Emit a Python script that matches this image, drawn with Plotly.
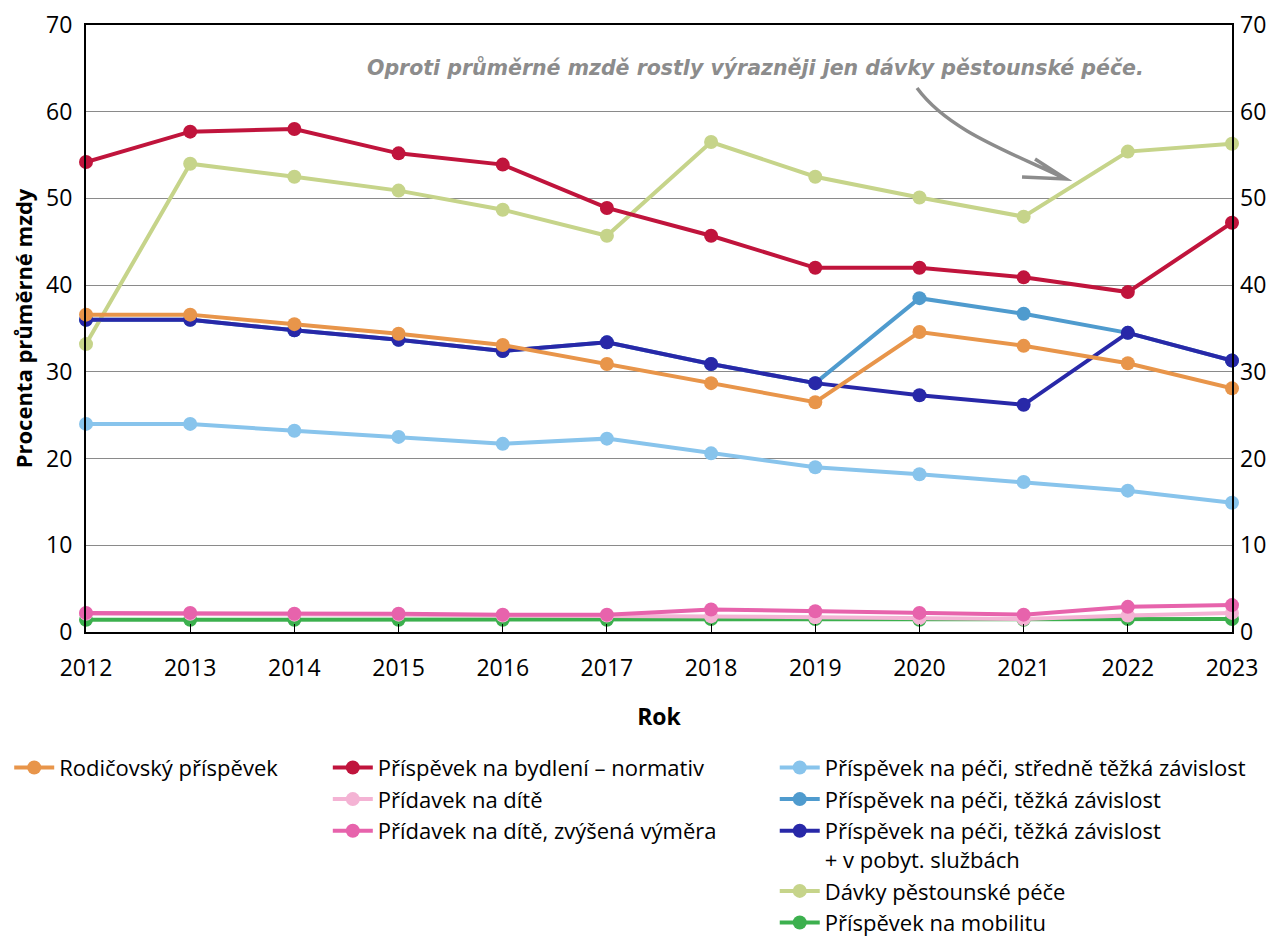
import plotly.graph_objects as go

years = list(range(2012, 2024))

rodicovsky = [36.6, 36.6, 35.5, 34.4, 33.1, 30.9, 28.7, 26.5, 34.6, 33.0, 31.0, 28.1]
bydleni = [54.2, 57.7, 58.0, 55.2, 53.9, 48.9, 45.7, 42.0, 42.0, 40.9, 39.2, 47.2]
pridavek = [2.1, 2.1, 2.0, 2.0, 1.9, 1.9, 1.8, 1.7, 1.6, 1.5, 1.9, 2.2]
pridavek_zv = [2.2, 2.2, 2.1, 2.1, 2.0, 2.0, 2.6, 2.4, 2.2, 2.0, 2.9, 3.1]
pece_stredne = [24.0, 24.0, 23.2, 22.5, 21.7, 22.3, 20.6, 19.0, 18.2, 17.3, 16.3, 14.9]
pece_tezka = [36.0, 36.0, 34.8, 33.7, 32.4, 33.4, 30.9, 28.7, 38.5, 36.7, 34.5, 31.3]
pece_tezka_pobyt = [36.0, 36.0, 34.8, 33.7, 32.4, 33.4, 30.9, 28.7, 27.3, 26.2, 34.5, 31.3]
pestounske = [33.2, 54.0, 52.5, 50.9, 48.7, 45.7, 56.5, 52.5, 50.1, 47.9, 55.4, 56.3]
mobilita = [1.4, 1.4, 1.4, 1.4, 1.4, 1.4, 1.5, 1.5, 1.4, 1.4, 1.5, 1.5]

FONT = "Open Sans"

# (name, values, colour, legend, rank) in drawing order
series = [
    ("Příspěvek na péči, těžká závislost", pece_tezka, "#4F9BCE", "legend3", 2),
    ("Příspěvek na mobilitu", mobilita, "#3CB04E", "legend3", 5),
    ("Přídavek na dítě", pridavek, "#F4B3D4", "legend2", 2),
    ("Přídavek na dítě, zvýšená výměra", pridavek_zv, "#E763AC", "legend2", 3),
    ("Příspěvek na péči, středně těžká závislost", pece_stredne, "#88C4EC", "legend3", 1),
    ("Dávky pěstounské péče", pestounske, "#C6D48A", "legend3", 4),
    ("Příspěvek na bydlení – normativ", bydleni, "#C0143C", "legend2", 1),
    ("Příspěvek na péči, těžká závislost<br>+ v pobyt. službách", pece_tezka_pobyt, "#2828A8", "legend3", 3),
    ("Rodičovský příspěvek", rodicovsky, "#E8954A", "legend", 1),
]

fig = go.Figure()
for name, vals, col, leg, rank in series:
    fig.add_trace(go.Scatter(
        x=years, y=vals, name=name, mode="lines+markers",
        line=dict(color=col, width=4),
        marker=dict(color=col, size=14),
        legend=leg, legendrank=rank, cliponaxis=False,
    ))

# dummy trace for right axis
fig.add_trace(go.Scatter(x=[2012], y=[0], yaxis="y2", mode="markers",
                         marker=dict(opacity=0), showlegend=False, hoverinfo="skip"))

def px2x(px):
    return 2012 + (px - 86) / 104.18

def py2y(py):
    return (632 - py) / 8.671

arrow_path = (f"M {px2x(917)},{py2y(88)} C {px2x(948)},{py2y(130)} {px2x(1005)},{py2y(150)} {px2x(1066)},{py2y(179)} "
              f"M {px2x(1022)},{py2y(177)} L {px2x(1066)},{py2y(179)} L {px2x(1035)},{py2y(159)}")

fig.add_shape(type="path", path=arrow_path, xref="x", yref="y",
              line=dict(color="#8C8C8C", width=3.5))

fig.add_annotation(x=px2x(755), y=py2y(68), xref="x", yref="y",
                   text="<b><i>Oproti průměrné mzdě rostly výrazněji jen dávky pěstounské péče.</i></b>",
                   showarrow=False, font=dict(family="DejaVu Sans", size=20.5, color="#8C8C8C"))

legend_common = dict(orientation="v", xanchor="left", yanchor="top",
                     font=dict(family=FONT, size=22, color="black"),
                     bgcolor="rgba(0,0,0,0)", itemwidth=40, tracegroupgap=0, valign="top")

fig.update_layout(
    width=1270, height=930,
    margin=dict(l=78, r=46, t=17, b=306, autoexpand=False),
    paper_bgcolor="white", plot_bgcolor="white",
    font=dict(family=FONT, size=23, color="black"),
    showlegend=True,
    legend=dict(x=-0.067, y=-0.189, **legend_common),
    legend2=dict(x=0.211, y=-0.189, **legend_common),
    legend3=dict(x=0.601, y=-0.189, **legend_common),
    xaxis=dict(range=[2012, 2023], dtick=1, tick0=2012, showgrid=False,
               showline=True, linecolor="black", linewidth=2, mirror=True,
               ticks="inside", ticklen=8, tickcolor="black", automargin=False,
               ticklabelstandoff=14, zeroline=False,
               title=dict(text="<b>Rok</b>", font=dict(family=FONT, size=23), standoff=27)),
    yaxis=dict(range=[0, 70], dtick=10, showgrid=True, gridcolor="#8A8A8A", gridwidth=1,
               showline=True, linecolor="black", linewidth=2, mirror=True, automargin=False,
               ticks="", ticklabelstandoff=7, zeroline=False,
               title=dict(text="<b>Procenta průměrné mzdy</b>", font=dict(family=FONT, size=22), standoff=14)),
    yaxis2=dict(range=[0, 70], dtick=10, overlaying="y", side="right", showgrid=False, automargin=False,
                ticks="", ticklabelstandoff=7, zeroline=False, showline=False),
)

fig.write_html("out.html")
